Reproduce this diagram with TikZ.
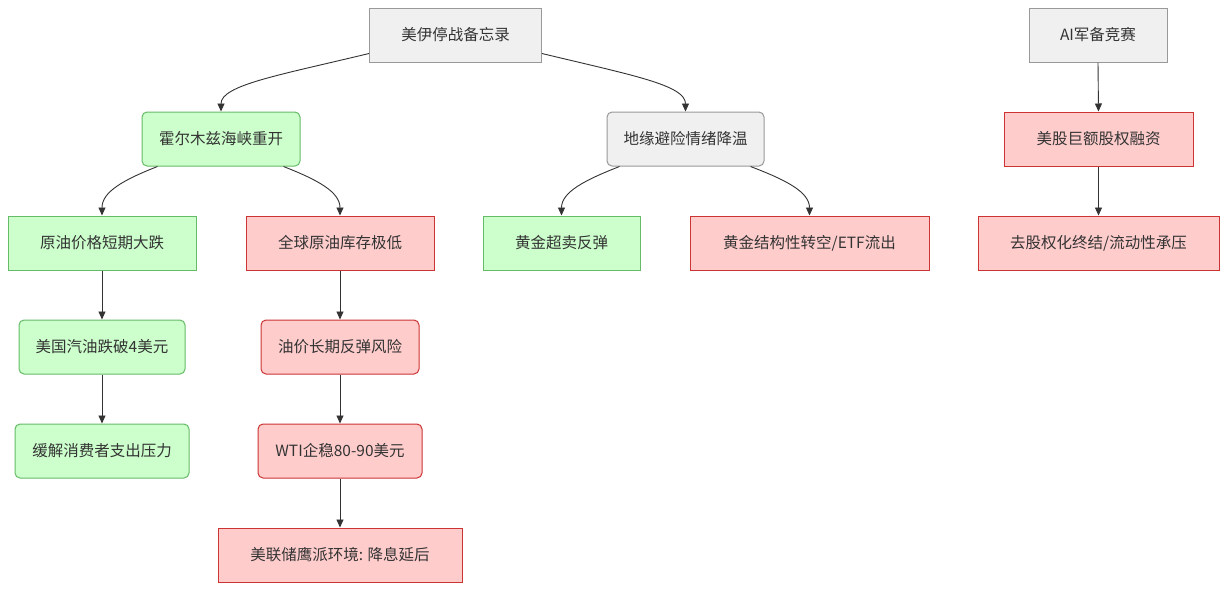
\documentclass[tikz,border=0pt]{standalone}
\usepackage{fontspec}
\setmainfont{Noto Sans CJK SC}
\usetikzlibrary{arrows.meta}
\definecolor{grayfill}{HTML}{F0F0F0}
\definecolor{graystroke}{HTML}{999999}
\definecolor{greenfill}{HTML}{CCFFCC}
\definecolor{greenstroke}{HTML}{66BB66}
\definecolor{redfill}{HTML}{FFCCCC}
\definecolor{redstroke}{HTML}{CC3333}
\definecolor{textc}{HTML}{333333}
\definecolor{linec}{HTML}{333333}
\begin{document}
\begin{tikzpicture}[x=1pt,y=-1pt,
  box/.style={draw, line width=1pt, minimum height=54pt, inner sep=0pt,
    font=\fontsize{15.5}{18}\selectfont, text=textc},
  graybox/.style={box, fill=grayfill, draw=graystroke},
  greenbox/.style={box, fill=greenfill, draw=greenstroke},
  redbox/.style={box, fill=redfill, draw=redstroke},
  rnd/.style={rounded corners=5pt},
  link/.style={draw=linec, line width=0.9pt, -{Triangle[length=8pt,width=7pt]}}]
\path[use as bounding box, fill=white] (0,0) rectangle (1227,590);

\node[graybox, minimum width=172pt] (top) at (455.5,35) {美伊停战备忘录};
\node[graybox, minimum width=138pt] (ai) at (1098,35) {AI军备竞赛};
\node[greenbox, rnd, minimum width=158pt] (hormuz) at (221,139) {霍尔木兹海峡重开};
\node[graybox, rnd, minimum width=157pt] (geo) at (685.5,139) {地缘避险情绪降温};
\node[redbox, minimum width=189pt] (equity) at (1098.5,139) {美股巨额股权融资};
\node[greenbox, minimum width=188pt] (crash) at (102,243) {原油价格短期大跌};
\node[redbox, minimum width=188pt] (inv) at (340,243) {全球原油库存极低};
\node[greenbox, minimum width=157pt] (gold1) at (561.5,243) {黄金超卖反弹};
\node[redbox, minimum width=239pt] (gold2) at (809.5,243) {黄金结构性转空/ETF流出};
\node[redbox, minimum width=241pt] (deeq) at (1098.5,243) {去股权化终结/流动性承压};
\node[greenbox, rnd, minimum width=166pt] (gas) at (102,347) {美国汽油跌破4美元};
\node[greenbox, rnd, minimum width=174pt] (relief) at (102,451) {缓解消费者支出压力};
\node[redbox, rnd, minimum width=158pt] (rebound) at (340,347) {油价长期反弹风险};
\node[redbox, rnd, minimum width=164pt] (wti) at (340,451) {WTI企稳80-90美元};
\node[redbox, minimum width=244pt] (fed) at (340,555) {美联储鹰派环境: 降息延后};

\draw[link] ([yshift=9pt]top.south west) .. controls (280,75) and (221,85) .. (hormuz.north);
\draw[link] ([yshift=9pt]top.south east) .. controls (631,75) and (685.5,85) .. (geo.north);
\draw[link] ([xshift=16pt]hormuz.south west) .. controls (123,180) and (102,192) .. (crash.north);
\draw[link] ([xshift=-17pt]hormuz.south east) .. controls (318,180) and (340,192) .. (inv.north);
\draw[link] ([xshift=13pt]geo.south west) .. controls (585,180) and (561.5,192) .. (gold1.north);
\draw[link] ([xshift=-14pt]geo.south east) .. controls (786,180) and (809.5,192) .. (gold2.north);
\draw[link] (crash.south) -- (gas.north);
\draw[link] (gas.south) -- (relief.north);
\draw[link] (inv.south) -- (rebound.north);
\draw[link] (rebound.south) -- (wti.north);
\draw[link] (wti.south) -- (fed.north);
\draw[link] (ai.south) -- (equity.north);
\draw[link] (equity.south) -- (deeq.north);
\end{tikzpicture}
\end{document}
